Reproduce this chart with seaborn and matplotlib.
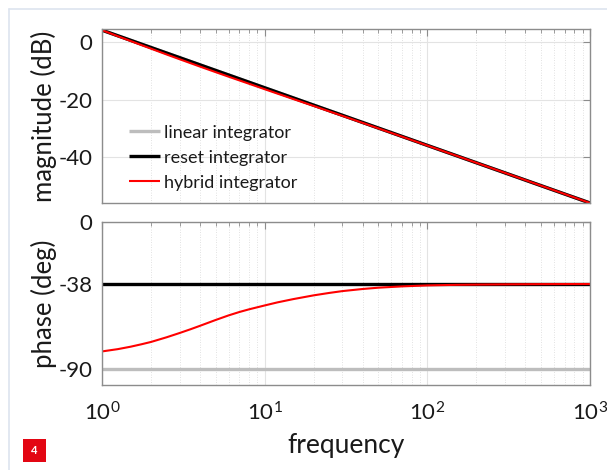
import numpy as np
import pandas as pd
import matplotlib
matplotlib.use("Agg")
import matplotlib.pyplot as plt
from matplotlib.patches import Rectangle
from matplotlib.lines import Line2D
from matplotlib.ticker import LogLocator, FixedLocator, NullFormatter
import seaborn as sns

# ---- data ----
freq = [1, 1.25, 1.5, 1.75, 2, 2.5, 3, 3.5, 4, 5, 6, 7, 8, 10, 12, 15, 20, 25, 30,
        40, 50, 70, 100, 150, 200, 300, 500, 700, 1000]
mag_reset = [4.2, 2.26, 0.68, -0.66, -1.82, -3.76, -5.34, -6.68, -7.84, -9.78, -11.36,
             -12.70, -13.86, -15.8, -17.38, -19.32, -21.82, -23.76, -25.34, -27.84,
             -29.78, -32.70, -35.8, -39.32, -41.82, -45.34, -49.78, -52.70, -55.8]
mag_linear = list(mag_reset)
mag_hybrid = [4.2, 2.1, 0.43, -1.01, -2.22, -4.26, -5.89, -7.26, -8.44, -10.38, -11.95,
              -13.26, -14.39, -16.3, -17.84, -19.72, -22.12, -24.01, -25.54, -27.98,
              -29.90, -32.78, -35.85, -39.34, -41.83, -45.34, -49.78, -52.70, -55.8]
ph_linear = [-90] * len(freq)
ph_reset = [-38] * len(freq)
ph_hybrid = [-79.4, -78.0, -76.5, -75.0, -73.6, -70.7, -68.1, -65.8, -63.7, -60.1,
             -57.3, -55.2, -53.6, -51.2, -49.3, -47.3, -45.0, -43.5, -42.4, -41.1,
             -40.3, -39.5, -38.9, -38.55, -38.4, -38.25, -38.12, -38.07, -38.05]
series = ["linear integrator", "reset integrator", "hybrid integrator"]
colors = ["#bdbdbd", "#000000", "#ff0000"]
widths = [2.4, 2.4, 1.5]
mag_ticks = [0, -20, -40]
ph_ticks = [0, -38, -90]

rows = []
for name, m, p in zip(series, [mag_linear, mag_reset, mag_hybrid], [ph_linear, ph_reset, ph_hybrid]):
    for f, mv, pv in zip(freq, m, p):
        rows.append({"frequency": f, "magnitude": mv, "phase": pv, "series": name})
df = pd.DataFrame(rows)

sns.set_theme(style="white")
FONT = ["Lato", "DejaVu Sans"]
plt.rcParams["font.family"] = FONT
plt.rcParams["mathtext.default"] = "regular"
plt.rcParams["mathtext.fontset"] = "custom"
plt.rcParams["mathtext.rm"] = "Lato"
plt.rcParams["mathtext.it"] = "Lato"
plt.rcParams["axes.unicode_minus"] = False

fig = plt.figure(figsize=(6.07, 4.70), dpi=100)
fig.patch.set_facecolor("white")
W, H = 607, 470
def ax_rect(l, t, r, b):
    return [l / W, 1 - b / H, (r - l) / W, (b - t) / H]

ax1 = fig.add_axes(ax_rect(102, 29, 590, 203))
ax2 = fig.add_axes(ax_rect(102, 222, 590, 385))

for ax, col in [(ax1, "magnitude"), (ax2, "phase")]:
    for name, c, lw in zip(series, colors, widths):
        sns.lineplot(data=df[df["series"] == name], x="frequency", y=col, ax=ax,
                     color=c, linewidth=lw, label=name, legend=False,
                     solid_capstyle="butt")
    ax.set_xscale("log")
    ax.set_xlim(1, 1000)
    ax.xaxis.set_major_locator(LogLocator(base=10, numticks=10))
    ax.xaxis.set_minor_locator(LogLocator(base=10, subs=np.arange(2, 10), numticks=100))
    ax.xaxis.set_minor_formatter(NullFormatter())
    ax.grid(True, which="major", color="#e3e3e3", linewidth=0.8, linestyle="-")
    ax.grid(True, which="minor", axis="x", color="#d8d8d8", linewidth=0.6, linestyle=(0, (1, 2)))
    ax.set_axisbelow(True)
    for s in ax.spines.values():
        s.set_color("#8c8c8c")
        s.set_linewidth(1.0)
        s.set_visible(True)
    ax.tick_params(which="both", direction="in", top=True, right=True, colors="#8c8c8c",
                   labelcolor="#1a1a1a", labelsize=16)
    ax.tick_params(which="major", length=5, width=0.8)
    ax.tick_params(which="minor", length=3, width=0.6)
    ax.tick_params(axis="y", pad=7)
    ax.tick_params(axis="x", pad=12)
    ax.set_xlabel("")

ax1.set_ylim(-55.8, 4.6)
ax1.yaxis.set_major_locator(FixedLocator(mag_ticks))
ax1.set_xticklabels([])
ax1.set_ylabel("magnitude (dB)", fontsize=18.5, color="#1a1a1a")
ax1.yaxis.set_label_coords(-0.092, 0.5)

ax2.set_ylim(-100, 0)
ax2.yaxis.set_major_locator(FixedLocator(ph_ticks))
ax2.set_ylabel("phase (deg)", fontsize=18.5, color="#1a1a1a")
ax2.yaxis.set_label_coords(-0.092, 0.5)
ax2.set_xlabel("frequency", fontsize=19, color="#1a1a1a", labelpad=6)

leg = ax1.legend(loc="upper left", bbox_to_anchor=(0.055, 0.45), frameon=False,
                 fontsize=13, handlelength=1.75, handletextpad=0.2, labelspacing=0.5,
                 borderpad=0, borderaxespad=0)
for t in leg.get_texts():
    t.set_color("#1a1a1a")

# page decoration: border and figure number badge
fig.add_artist(Line2D([9 / W, 9 / W], [0, 1 - 9 / H], transform=fig.transFigure,
                      color="#dde4ef", linewidth=1.2))
fig.add_artist(Line2D([9 / W, 1], [1 - 9 / H, 1 - 9 / H], transform=fig.transFigure,
                      color="#dde4ef", linewidth=1.2))
fig.add_artist(Rectangle((23 / W, 1 - 462 / H), 23 / W, 23 / H, transform=fig.transFigure,
                         facecolor="#e30613", edgecolor="none"))
fig.text(34.5 / W, 1 - 450.5 / H, "4", color="white", fontsize=8, fontweight="bold",
         ha="center", va="center")

fig.savefig("out.png", dpi=100)
